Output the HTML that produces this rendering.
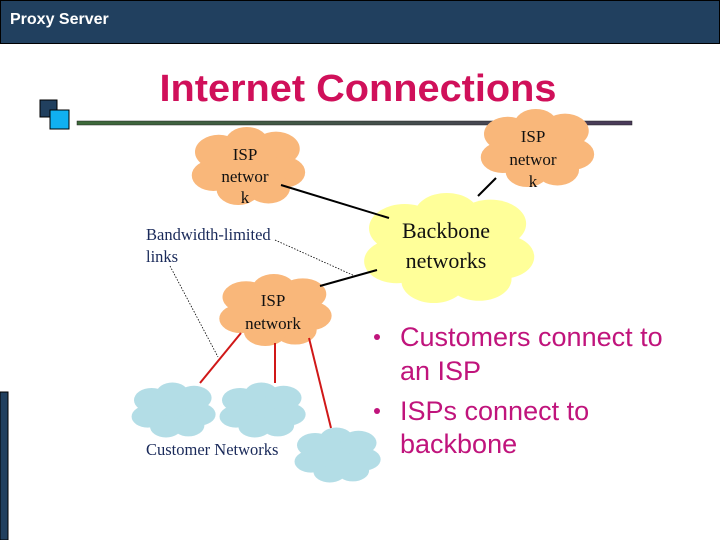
<!DOCTYPE html>
<html><head><meta charset="utf-8"><style>
body{margin:0;width:720px;height:540px;overflow:hidden;background:#fff;font-family:"Liberation Sans",sans-serif}
</style></head><body>
<svg width="720" height="540" xmlns="http://www.w3.org/2000/svg">
<defs>
<g id="c">
<ellipse cx="0" cy="0" rx="0.42" ry="0.38"/>
<circle cx="-0.28" cy="-0.18" r="0.22"/><circle cx="-0.02" cy="-0.3" r="0.2"/><circle cx="0.25" cy="-0.22" r="0.22"/>
<circle cx="0.32" cy="0.08" r="0.2"/><circle cx="0.18" cy="0.28" r="0.2"/><circle cx="-0.1" cy="0.3" r="0.2"/>
<circle cx="-0.33" cy="0.12" r="0.2"/>
</g>
<linearGradient id="g" x1="0" x2="1"><stop offset="0" stop-color="#3d6a3a"/><stop offset="1" stop-color="#4a3a5a"/></linearGradient>
</defs>
<rect x="0.5" y="0.5" width="719" height="43" fill="#21405f" stroke="#000"/>
<text x="10" y="24" fill="#fff" font-size="16" font-weight="bold">Proxy Server</text>
<text x="358" y="101" fill="#d0105a" font-size="38" font-weight="bold" text-anchor="middle" textLength="397" lengthAdjust="spacingAndGlyphs">Internet Connections</text>
<rect x="77" y="121" width="555" height="4" fill="url(#g)" stroke="#222" stroke-width="0.5"/>
<rect x="40" y="100" width="17" height="17" fill="#21405f" stroke="#000"/>
<rect x="50" y="110" width="19" height="19" fill="#10b0f0" stroke="#000"/>
<rect x="0" y="392" width="8" height="148" fill="#21405f" stroke="#000" stroke-width="1"/>
<g fill="#f9b77a"><use href="#c" transform="translate(249,166) scale(108,78)"/>
<use href="#c" transform="translate(538,148) scale(108,78)"/>
<use href="#c" transform="translate(276,310) scale(107,72)"/></g>
<use href="#c" fill="#ffff99" transform="translate(450,248) scale(162,110)"/>
<g fill="#b3dde6"><use href="#c" transform="translate(174,410) scale(80,55)"/>
<use href="#c" transform="translate(263,410) scale(82,55)"/>
<use href="#c" transform="translate(338,455) scale(82,55)"/></g>
<g stroke="#000" stroke-width="2"><line x1="281" y1="185" x2="389" y2="218"/><line x1="496" y1="178" x2="478" y2="196"/><line x1="320" y1="286" x2="377" y2="270"/></g>
<g stroke="#d01818" stroke-width="2"><line x1="241" y1="333" x2="200" y2="383"/><line x1="275" y1="343" x2="275" y2="383"/><line x1="309" y1="338" x2="331" y2="428"/></g>
<g stroke="#000" stroke-width="0.8" stroke-dasharray="1.5,1.5"><line x1="275" y1="240" x2="357" y2="277"/><line x1="170" y1="266" x2="218" y2="357"/></g>
<g font-family="Liberation Serif,serif" font-size="17" text-anchor="middle" fill="#111">
<text x="245" y="160">ISP</text><text x="245" y="182">networ</text><text x="245" y="203">k</text>
<text x="533" y="142">ISP</text><text x="533" y="165">networ</text><text x="533" y="187">k</text>
<text x="273" y="306">ISP</text><text x="273" y="329">network</text>
<text x="446" y="238" font-size="22">Backbone</text><text x="446" y="268" font-size="22">networks</text>
</g>
<g font-family="Liberation Serif,serif" font-size="16.5" fill="#1a2a5a">
<text x="146" y="240">Bandwidth-limited</text><text x="146" y="262">links</text>
<text x="146" y="455">Customer Networks</text></g>
<g fill="#c0147c" font-size="27">
<circle cx="377" cy="337" r="3"/><circle cx="377" cy="411" r="3"/>
<text x="400" y="346">Customers connect to</text><text x="400" y="380">an ISP</text>
<text x="400" y="420">ISPs connect to</text><text x="400" y="453">backbone</text></g>
</svg>
</body></html>
